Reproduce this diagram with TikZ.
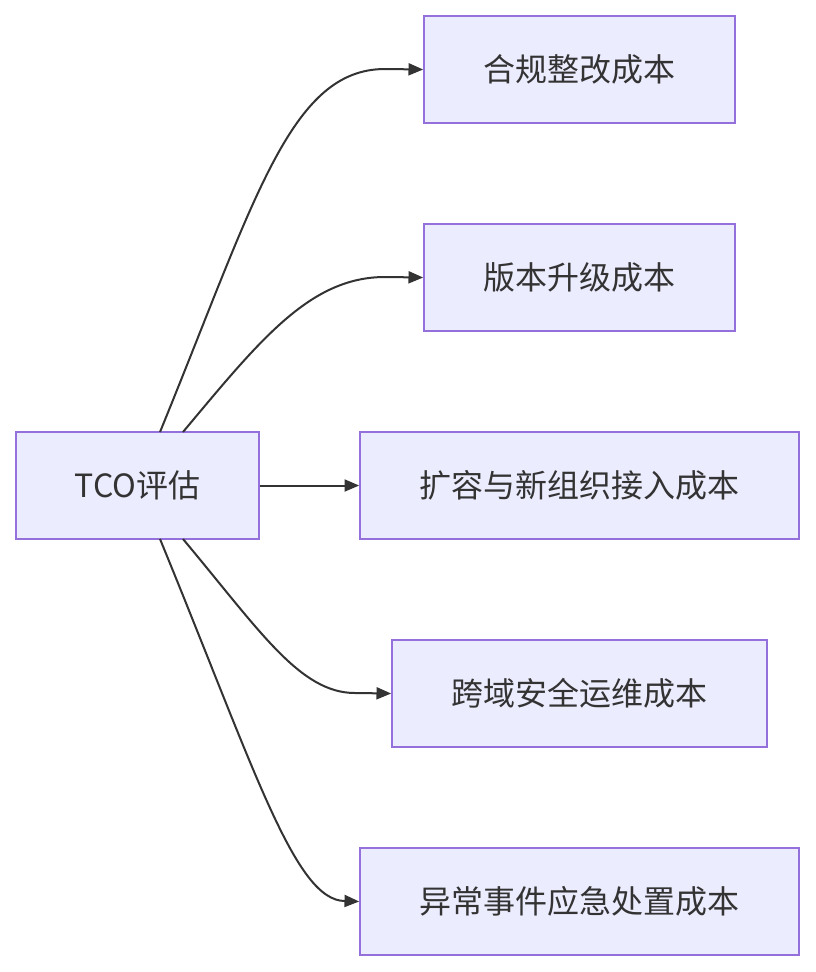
\documentclass[tikz,border=0pt]{standalone}
\usepackage{fontspec}
\setmainfont{Noto Sans CJK SC}
\usetikzlibrary{arrows.meta}
\definecolor{nodefill}{HTML}{ECECFF}
\definecolor{nodeedge}{HTML}{9370DB}
\definecolor{ink}{HTML}{333333}
\tikzset{
  box/.style={draw=nodeedge, fill=nodefill, line width=1.5pt, text=ink,
    font=\fontsize{24pt}{28pt}\selectfont, minimum height=80pt, inner sep=0pt},
  link/.style={draw=ink, line width=1.5pt, -{Triangle[length=11pt,width=9pt]}}
}
\begin{document}
\begin{tikzpicture}[x=0.75pt,y=-0.75pt]
\useasboundingbox (0,0) rectangle (815,972);
\node[box, minimum width=182pt] (tco) at (137.5,485.5) {TCO评估};
\node[box, minimum width=233pt] (a) at (579.5,69.5) {合规整改成本};
\node[box, minimum width=233pt] (b) at (579.5,277.5) {版本升级成本};
\node[box, minimum width=329pt] (c) at (579.5,485.5) {扩容与新组织接入成本};
\node[box, minimum width=281pt] (d) at (579.5,693.5) {跨域安全运维成本};
\node[box, minimum width=329pt] (e) at (579.5,901.5) {异常事件应急处置成本};
\coordinate (t1) at (160,432);
\coordinate (t2) at (183,432);
\coordinate (b1) at (160,539);
\coordinate (b2) at (183,539);
\draw[link] (t1) .. controls (255,200) and (290,69) .. (385,69) -- (a.west);
\draw[link] (t2) .. controls (260,340) and (310,277) .. (385,277) -- (b.west);
\draw[link] (tco.east) -- (c.west);
\draw[link] (b2) .. controls (260,631) and (300,693) .. (355,693) -- (d.west);
\draw[link] (b1) .. controls (255,770) and (295,901) .. (345,901) -- (e.west);
\end{tikzpicture}
\end{document}
